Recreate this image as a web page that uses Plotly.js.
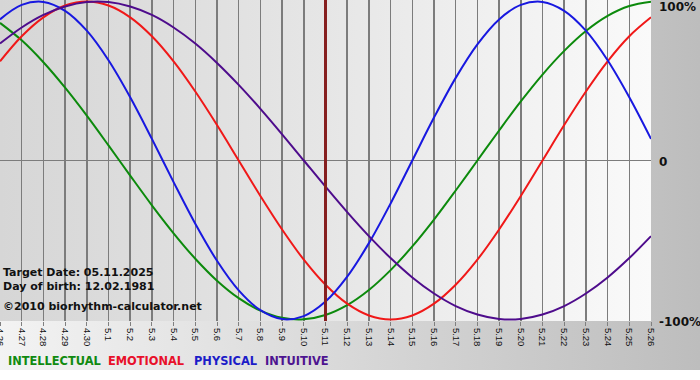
<!DOCTYPE html>
<html>
<head>
<meta charset="utf-8">
<script src="https://cdn.plot.ly/plotly-3.0.1.min.js"></script>
<style>
  html, body { margin: 0; padding: 0; background: #ffffff; }
  #wrap {
    position: relative; width: 700px; height: 380px; overflow: hidden;
    background:
      linear-gradient(#ffffff, #ffffff) left bottom / 100% 10px no-repeat,
      linear-gradient(to right, #f3f3f3 0%, #bdbdbd 100%);
  }
  #plotbg {
    position: absolute; left: 0; top: 0; width: 651px; height: 321px;
    background: linear-gradient(to right, #d6d6d6 0%, #e6e6e6 50%, #fafafa 100%);
  }
  #chart { position: absolute; left: 0; top: 0; width: 700px; height: 380px; }
</style>
</head>
<body>
<div id="wrap">
  <div id="plotbg"></div>
  <div id="chart"></div>
</div>
<script>
// Day labels (month.day)
const dateLabels = ['4.26','4.27','4.28','4.29','4.30','5.1','5.2','5.3','5.4','5.5','5.6','5.7','5.8','5.9','5.10',
  '5.11','5.12','5.13','5.14','5.15','5.16','5.17','5.18','5.19','5.20','5.21','5.22','5.23','5.24','5.25','5.26'];
const targetLabel = '5.11';

// Cycle values (-1 .. 1)
const intellectual = [0.866,0.756,0.618,0.458,0.282,0.095,-0.095,-0.282,-0.458,-0.618,-0.756,-0.866,-0.945,-0.990,-0.999,
  -0.972,-0.910,-0.815,-0.690,-0.541,-0.372,-0.189,0,0.189,0.372,0.541,0.690,0.815,0.910,0.972,0.999];
const emotional = [0.624,0.782,0.901,0.975,1.0,0.975,0.901,0.782,0.624,0.434,0.223,0,-0.223,-0.434,-0.624,
  -0.782,-0.901,-0.975,-1,-0.975,-0.901,-0.782,-0.624,-0.434,-0.223,0,0.223,0.434,0.624,0.782,0.901];
const physical = [0.888,0.979,0.998,0.942,0.817,0.631,0.398,0.136,-0.136,-0.398,-0.631,-0.817,-0.942,-0.998,-0.979,
  -0.888,-0.731,-0.520,-0.270,0,0.270,0.520,0.731,0.888,0.979,0.998,0.942,0.817,0.631,0.398,0.136];
const intuitive = [0.736,0.837,0.916,0.969,0.997,0.997,0.969,0.916,0.837,0.736,0.614,0.476,0.325,0.165,0,
  -0.165,-0.325,-0.476,-0.614,-0.736,-0.837,-0.916,-0.969,-0.997,-0.997,-0.969,-0.916,-0.837,-0.736,-0.614,-0.476];

const seriesNames = ['INTELLECTUAL','EMOTIONAL','PHYSICAL','INTUITIVE'];
const yTickVals = [1, 0, -1];
const yTickText = ['100%', '0', '-100%'];
const infoLines = ['Target Date: 05.11.2025', 'Day of birth: 12.02.1981', '©2010 biorhythm-calculator.net'];

const colors = ['#0c8a0c', '#f01818', '#1818e0', '#4e0c8c'];
const legendColors = ['#108a10', '#e8102a', '#1c1cc8', '#4e1490'];
const seriesData = [intellectual, emotional, physical, intuitive];

const xIdx = dateLabels.map((_, i) => i);
const traces = seriesData.map((vals, i) => ({
  type: 'scatter', mode: 'lines', x: xIdx, y: vals, name: seriesNames[i],
  line: { color: colors[i], width: 2, shape: 'spline', smoothing: 1 },
  hoverinfo: 'skip', showlegend: false
}));

const plotH = 321;
function paperY(px) { return (plotH - px) / plotH; }

const annotations = [];
// right-side percentage labels
const yShifts = [-5, -1.5, -3];
yTickVals.forEach((v, i) => {
  annotations.push({
    xref: 'paper', yref: 'y', x: 1, y: v, xanchor: 'left', yanchor: 'middle',
    xshift: 6, yshift: yShifts[i], showarrow: false, text: yTickText[i],
    font: { family: 'DejaVu Sans', size: 12, color: '#111111', weight: 'bold' }
  });
});
// info text inside plot
const infoY = [272, 286.5, 306.5];
infoLines.forEach((t, i) => {
  annotations.push({
    xref: 'paper', yref: 'paper', x: 0, y: paperY(infoY[i]), xanchor: 'left', yanchor: 'middle',
    xshift: 1, showarrow: false, text: t,
    font: { family: 'DejaVu Sans', size: 11, color: '#111111', weight: 'bold' }
  });
});
// colored legend words
const legendX = [6, 106, 192, 263];
seriesNames.forEach((n, i) => {
  annotations.push({
    xref: 'paper', yref: 'paper', x: 0, y: paperY(361), xanchor: 'left', yanchor: 'middle',
    xshift: legendX[i], showarrow: false, text: n,
    font: { family: 'DejaVu Sans', size: 11.4, weight: 'bold', color: legendColors[i] }
  });
});

const tIdx = dateLabels.indexOf(targetLabel);
const layout = {
  width: 700, height: 380,
  margin: { l: 0, r: 49, t: 0, b: 59, pad: 0 },
  paper_bgcolor: 'rgba(0,0,0,0)', plot_bgcolor: 'rgba(0,0,0,0)',
  showlegend: false,
  xaxis: {
    range: [0, dateLabels.length - 1], tickvals: xIdx, ticktext: dateLabels,
    tickangle: 90, showgrid: true, gridcolor: '#7c7c7c', gridwidth: 1.5,
    zeroline: false, showline: false, ticks: 'outside', ticklen: 4, tickcolor: '#808080', tickwidth: 1,
    ticklabeloverflow: 'allow',
    tickfont: { family: 'Liberation Sans', size: 9.5, color: '#111111' }, fixedrange: true
  },
  yaxis: {
    range: [-1.01, 1.01], showgrid: false, showticklabels: false, ticks: '',
    zeroline: true, zerolinecolor: '#7c7c7c', zerolinewidth: 1.5, showline: false, fixedrange: true
  },
  shapes: [{
    type: 'line', xref: 'x', yref: 'paper', x0: tIdx, x1: tIdx, y0: 0, y1: 1,
    line: { color: '#861f1f', width: 3 }, layer: 'above'
  }],
  annotations: annotations,
  hovermode: false
};

Plotly.newPlot('chart', traces, layout, { displayModeBar: false, staticPlot: true });
</script>
</body>
</html>
